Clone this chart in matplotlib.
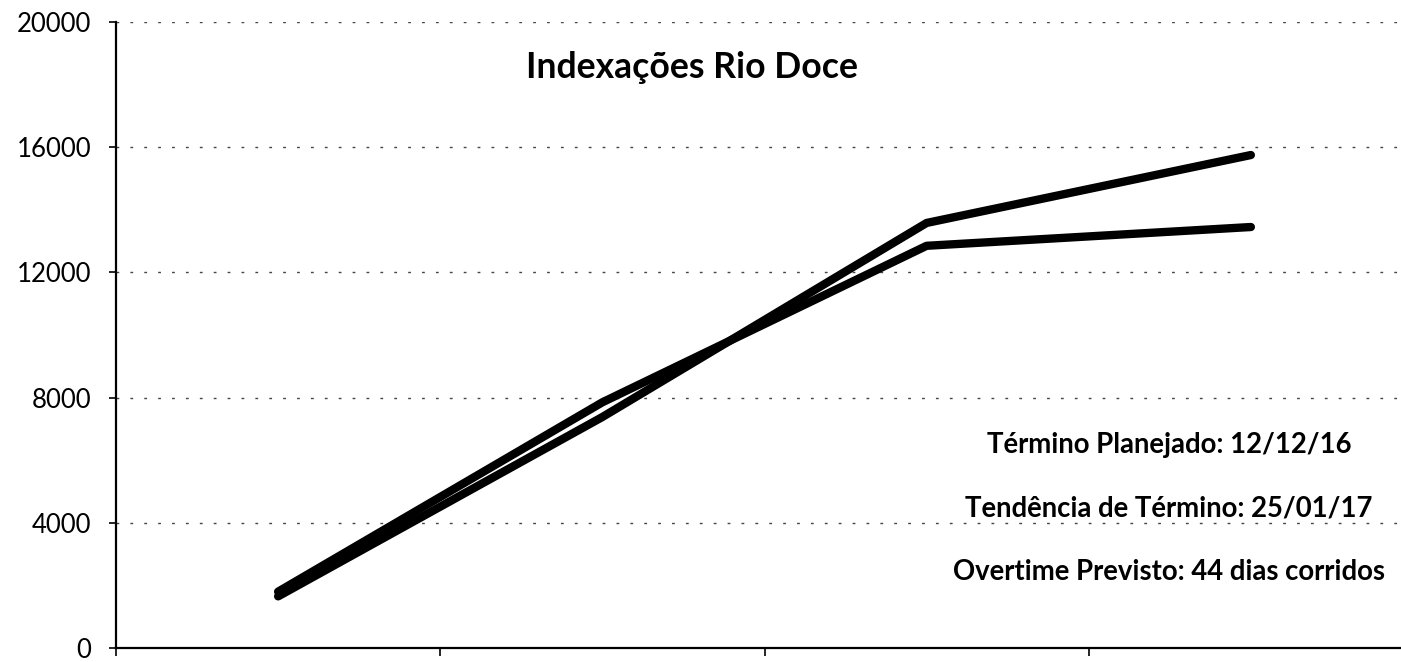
import matplotlib.pyplot as plt
import numpy as np

plt.rcParams['font.family'] = ['Lato', 'DejaVu Sans']

# data (4 periods, labels cut off in the scan)
periods = [0, 1, 2, 3]
serie_a = [1800, 7850, 12850, 13450]   # ends lower
serie_b = [1650, 7380, 13580, 15750]   # ends higher
yticks = [0, 4000, 8000, 12000, 16000, 20000]

titulo = 'Indexações Rio Doce'
notas = ['Término Planejado: 12/12/16',
         'Tendência de Término: 25/01/17',
         'Overtime Previsto: 44 dias corridos']

W, H = 1401, 662
fig = plt.figure(figsize=(W / 100, H / 100), dpi=100)
# axis spans 116..1413 px horizontally (right side cropped), 22..648 px vertically
ax = fig.add_axes([116 / W, (H - 648) / H, (1413 - 116) / W, (648 - 22) / H])

ax.plot(periods, serie_a, color='black', lw=6, solid_capstyle='round', solid_joinstyle='round')
ax.plot(periods, serie_b, color='black', lw=6, solid_capstyle='round', solid_joinstyle='round')

ax.set_xlim(-0.5, 3.5)
ax.set_ylim(0, 20000)
ax.set_yticks(yticks)
ax.set_yticklabels([str(v) for v in yticks], fontsize=18.5)
ax.tick_params(axis='y', direction='out', length=5, width=1.2, pad=13, colors='black')

# category boundary ticks on x axis, no labels visible
ax.set_xticks([-0.5, 0.5, 1.5, 2.5, 3.5])
ax.set_xticklabels([])
ax.tick_params(axis='x', direction='out', length=6, width=1.2)

for s in ['top', 'right']:
    ax.spines[s].set_visible(False)
for s in ['left', 'bottom']:
    ax.spines[s].set_linewidth(1.6)
    ax.spines[s].set_color('black')

ax.yaxis.grid(True, color='#444444', linestyle=(0, (2, 8)), linewidth=1.0)
ax.set_axisbelow(True)

fig.text(692 / W, 1 - 68 / H, titulo, fontsize=25.6, fontweight='bold', ha='center', va='center')
for i, t in enumerate(notas):
    fig.text(1169 / W, 1 - (445 + i * 63.5) / H, t, fontsize=19.8, fontweight='bold', ha='center', va='center')

fig.savefig('out.png', dpi=100)
